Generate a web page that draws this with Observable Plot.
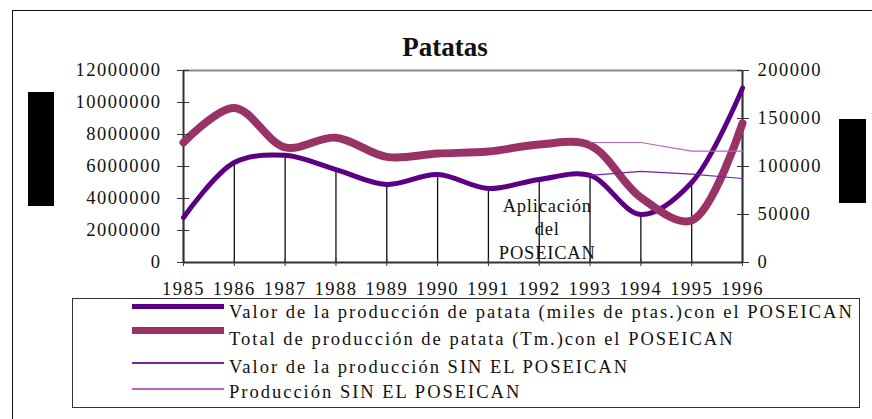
<!DOCTYPE html>
<html>
<head>
<meta charset="utf-8">
<script src="https://cdn.jsdelivr.net/npm/d3@7"></script>
<script src="https://cdn.jsdelivr.net/npm/@observablehq/plot@0.6"></script>
<style>
  html, body { margin: 0; padding: 0; background: #fff; }
  #wrap { position: relative; width: 872px; height: 419px; overflow: hidden; background: #fff;
          font-family: "Liberation Serif", "Times New Roman", serif; color: #111; }
  #wrap svg { position: absolute; left: 0; top: 0; }
  .abs { position: absolute; }
  .ltxt { position: absolute; font-size: 18.5px; line-height: 1; letter-spacing: 2px; white-space: nowrap; }
</style>
</head>
<body>
<div id="wrap"></div>
<script>
// ---------- data ----------
const years = [1985, 1986, 1987, 1988, 1989, 1990, 1991, 1992, 1993, 1994, 1995, 1996];
// Valor de la producción (miles de ptas.) con el POSEICAN  (left axis)
const valorCon = [2810000, 6250000, 6700000, 5810000, 4880000, 5500000, 4630000, 5190000, 5440000, 3000000, 5000000, 10900000];
// Total de producción (Tm.) con el POSEICAN (right axis)
const totalCon = [125000, 161000, 120000, 130000, 110000, 113500, 115600, 123000, 122000, 67700, 43800, 145000];
// Scenario without POSEICAN (from 1993)
const yearsSin = [1993, 1994, 1995, 1996];
const valorSin = [5440000, 5690000, 5520000, 5250000];
const totalSin = [125000, 125000, 116000, 116000];

const leftTicks = [0, 2000000, 4000000, 6000000, 8000000, 10000000, 12000000];
const rightTicks = [0, 50000, 100000, 150000, 200000];
const ratio = 12000000 / 200000; // right axis -> left axis units

const annotation = [{x: 1992, y: 2180000, text: "Aplicación\ndel\nPOSEICAN"}];

const seriesNames = [
  "Valor de la producción de patata (miles de ptas.)con el POSEICAN",
  "Total de producción de patata (Tm.)con el POSEICAN",
  "Valor de la producción SIN EL POSEICAN",
  "Producción SIN EL POSEICAN"
];
const colors = ["#5b0082", "#993366", "#7a1fa0", "#b866c0"];

// ---------- tables ----------
const tValor = years.map((y, i) => ({x: y, v: valorCon[i]}));
const tTotal = years.map((y, i) => ({x: y, v: totalCon[i] * ratio}));
const tValorSin = yearsSin.map((y, i) => ({x: y, v: valorSin[i]}));
const tTotalSin = yearsSin.map((y, i) => ({x: y, v: totalSin[i] * ratio}));

const chart = Plot.plot({
  width: 872,
  height: 300,
  marginLeft: 183,
  marginRight: 130,
  marginTop: 70,
  marginBottom: 38,
  x: {type: "linear", domain: [1985, 1996], label: null},
  y: {domain: [0, 12000000], label: null},
  style: {fontFamily: "'Liberation Serif', 'Times New Roman', serif", fontSize: "18.5px", letterSpacing: "1.5px", color: "#111", background: "transparent", overflow: "visible"},
  marks: [
    // drop lines
    Plot.ruleX(tValor, {x: "x", y1: 0, y2: "v", stroke: "#111", strokeWidth: 1.3}),
    // plot-area frame
    Plot.ruleY([12000000], {stroke: "#8a8a8a", strokeWidth: 2}),
    Plot.ruleY([0], {stroke: "#333", strokeWidth: 2}),
    Plot.ruleX([1985, 1996], {stroke: "#333", strokeWidth: 2}),
    // lines
    Plot.line(tValor, {x: "x", y: "v", stroke: colors[0], strokeWidth: 5, curve: "catmull-rom"}),
    Plot.line(tTotal, {x: "x", y: "v", stroke: colors[1], strokeWidth: 8, curve: "catmull-rom"}),
    Plot.line(tValorSin, {x: "x", y: "v", stroke: colors[2], strokeWidth: 1.2}),
    Plot.line(tTotalSin, {x: "x", y: "v", stroke: colors[3], strokeWidth: 1.2}),
    // annotation
    Plot.text(annotation, {x: "x", y: "y", text: "text", dx: 8, lineHeight: 1.27, fill: "#111"}),
    // axes
    Plot.axisY(leftTicks, {anchor: "left", label: null, tickSize: 6, tickPadding: 16, tickFormat: d => String(d), stroke: "#333"}),
    Plot.axisY(leftTicks, {anchor: "left", label: null, tickSize: 6, dx: 6, tickFormat: () => "", stroke: "#333"}),
    Plot.axisY(rightTicks.map(t => t * ratio), {anchor: "right", label: null, tickSize: 6, tickPadding: 9, tickFormat: d => String(Math.round(d / ratio)), stroke: "#333"}),
    Plot.axisY(rightTicks.map(t => t * ratio), {anchor: "right", label: null, tickSize: 6, dx: -6, tickFormat: () => "", stroke: "#333"}),
    Plot.axisX(years, {label: null, tickSize: 4, tickPadding: 15, tickFormat: d => String(d), stroke: "#333"}),
    Plot.axisX(years, {label: null, tickSize: 4, dy: -4, tickFormat: () => "", stroke: "#333"})
  ]
});

// annotation text is set tighter than the axis labels
d3.select(chart).selectAll("g[aria-label='text'] text").style("letter-spacing", "0.8px");

const wrap = document.getElementById("wrap");

// outer frame (left + top border)
const frame = document.createElement("div");
frame.className = "abs";
Object.assign(frame.style, {left: "12px", top: "10px", width: "880px", height: "420px", borderLeft: "1.6px solid #111", borderTop: "1.6px solid #111"});
wrap.appendChild(frame);

wrap.appendChild(chart);

// title
const title = document.createElement("div");
title.className = "abs";
title.textContent = "Patatas";
Object.assign(title.style, {left: "12px", width: "866px", top: "34px", textAlign: "center", fontSize: "27px", fontWeight: "bold", lineHeight: "1", fontFamily: "'Liberation Serif', serif"});
wrap.appendChild(title);

// redaction blocks (axis titles)
[[28, 92, 26, 114], [839, 119, 27, 84]].forEach(([l, t, w, h]) => {
  const b = document.createElement("div");
  b.className = "abs";
  Object.assign(b.style, {left: l + "px", top: t + "px", width: w + "px", height: h + "px", background: "#000"});
  wrap.appendChild(b);
});

// legend
const lg = document.createElement("div");
lg.className = "abs";
Object.assign(lg.style, {left: "72px", top: "298px", width: "788px", height: "110px", border: "1.5px solid #333", boxSizing: "border-box", background: "#fff"});
wrap.appendChild(lg);

const swY = [306, 330, 363, 389];
const swH = [5, 7, 1.5, 2.5];
const txtTop = [302.5, 329.5, 357.5, 382.5];
seriesNames.forEach((name, i) => {
  const s = document.createElement("div");
  s.className = "abs";
  Object.assign(s.style, {left: "132px", width: "92px", top: (swY[i] - swH[i] / 2) + "px", height: swH[i] + "px", background: colors[i]});
  wrap.appendChild(s);
  const t = document.createElement("div");
  t.className = "ltxt";
  t.textContent = name;
  Object.assign(t.style, {left: "229px", top: txtTop[i] + "px"});
  wrap.appendChild(t);
});
</script>
</body>
</html>
